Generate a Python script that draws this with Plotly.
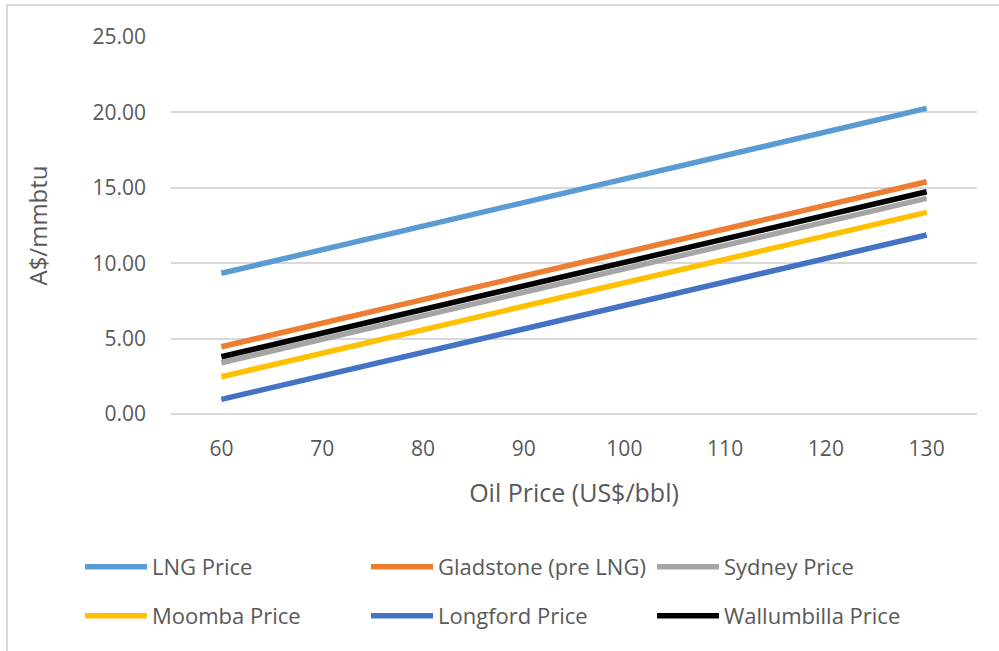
import plotly.graph_objects as go

oil_price = ["60", "70", "80", "90", "100", "110", "120", "130"]

lng_price = [9.33, 10.89, 12.46, 14.02, 15.58, 17.15, 18.71, 20.27]
gladstone_price = [4.46, 6.02, 7.58, 9.15, 10.71, 12.27, 13.84, 15.40]
sydney_price = [3.40, 4.96, 6.52, 8.07, 9.63, 11.19, 12.74, 14.30]
moomba_price = [2.47, 4.03, 5.58, 7.14, 8.70, 10.26, 11.81, 13.37]
longford_price = [0.97, 2.53, 4.08, 5.64, 7.20, 8.76, 10.31, 11.87]
wallumbilla_price = [3.80, 5.36, 6.92, 8.49, 10.05, 11.61, 13.18, 14.74]

series = [
    ("LNG Price", lng_price, "#5B9BD5", "legend"),
    ("Gladstone (pre LNG)", gladstone_price, "#ED7D31", "legend"),
    ("Sydney Price", sydney_price, "#A5A5A5", "legend"),
    ("Moomba Price", moomba_price, "#FFC000", "legend2"),
    ("Longford Price", longford_price, "#4472C4", "legend2"),
    ("Wallumbilla Price", wallumbilla_price, "#000000", "legend2"),
]

FONT = "Open Sans"
TXT = "#595959"

fig = go.Figure()
for name, vals, color, leg in series:
    fig.add_trace(go.Scatter(
        x=oil_price, y=vals, name=name, mode="lines",
        line=dict(color=color, width=5.5), legend=leg,
    ))

W, H = 999, 651
L, R, T, B = 171, 977, 37, 414
pw, ph = R - L, B - T

def px(x):
    return (x - L) / pw

def py(y):
    return (B - y) / ph

legend_common = dict(
    orientation="h", entrywidth=209, entrywidthmode="pixels",
    itemwidth=62, font=dict(family=FONT, size=22, color=TXT),
    bgcolor="rgba(0,0,0,0)", xanchor="left", yanchor="middle",
    traceorder="normal",
)

fig.update_layout(
    width=W, height=H,
    margin=dict(l=L, r=W - R, t=T, b=H - B, pad=0, autoexpand=False),
    paper_bgcolor="white", plot_bgcolor="white",
    font=dict(family=FONT, size=21, color=TXT),
    showlegend=True,
    legend=dict(x=px(80), y=py(567), **legend_common),
    legend2=dict(x=px(80), y=py(616), **legend_common),
    xaxis=dict(
        type="category", range=[-0.5, 7.5], showgrid=False, showline=False,
        zeroline=False, ticks="", ticklabelstandoff=20,
        tickfont=dict(family=FONT, size=21, color=TXT),
        title=dict(text="Oil Price (US$/bbl)", standoff=23,
                   font=dict(family=FONT, size=25, color=TXT)),
    ),
    yaxis=dict(
        range=[0, 25], tickvals=[0, 5, 10, 15, 20, 25], tickformat=".2f",
        showgrid=True, gridcolor="#D9D9D9", gridwidth=1.5,
        zeroline=True, zerolinecolor="#D9D9D9", zerolinewidth=1.5,
        showline=False, ticks="", ticklabelstandoff=24,
        tickfont=dict(family=FONT, size=21, color=TXT),
        title=dict(text="A$/mmbtu", standoff=38,
                   font=dict(family=FONT, size=24, color=TXT)),
    ),
    shapes=[dict(
        type="rect", xref="paper", yref="paper",
        x0=px(7), x1=px(1010), y0=py(700), y1=py(5),
        line=dict(color="#D9D9D9", width=2), fillcolor="rgba(0,0,0,0)",
        layer="below",
    )],
)

fig.write_html(
    "out.html",
    config={"displayModeBar": False},
    post_script="document.body.style.margin='0';document.body.style.overflow='hidden';",
)
